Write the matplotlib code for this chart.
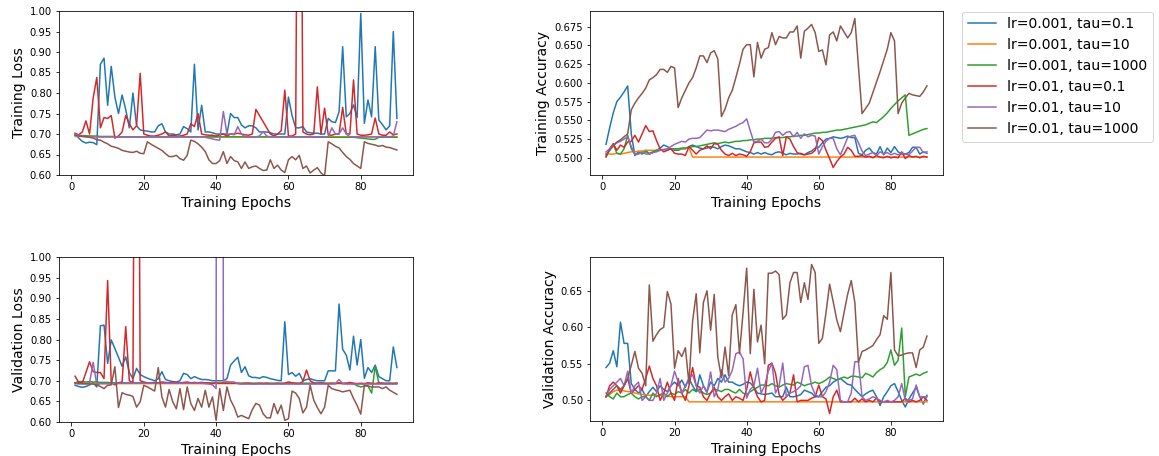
import matplotlib
matplotlib.use("Agg")
import matplotlib.pyplot as plt
from matplotlib.ticker import MultipleLocator

epochs = list(range(1, 91))
labels = ["lr=0.001, tau=0.1", "lr=0.001, tau=10", "lr=0.001, tau=1000",
          "lr=0.01, tau=0.1", "lr=0.01, tau=10", "lr=0.01, tau=1000"]

# ---------------- Training loss ----------------
tl_blue = [0.700, 0.690, 0.682, 0.678, 0.680, 0.679, 0.674, 0.870, 0.885, 0.770,
           0.865, 0.790, 0.750, 0.795, 0.760, 0.715, 0.800, 0.720, 0.710, 0.708,
           0.707, 0.705, 0.705, 0.720, 0.725, 0.705, 0.700, 0.700, 0.698, 0.700,
           0.718, 0.713, 0.705, 0.870, 0.710, 0.770, 0.705, 0.705, 0.703, 0.700,
           0.700, 0.700, 0.700, 0.750, 0.740, 0.740, 0.722, 0.715, 0.720, 0.720,
           0.715, 0.705, 0.705, 0.705, 0.703, 0.700, 0.700, 0.700, 0.700, 0.790,
           0.745, 0.715, 0.715, 0.718, 0.705, 0.703, 0.702, 0.702, 0.700, 0.700,
           0.738, 0.730, 0.728, 0.754, 0.913, 0.742, 0.750, 0.771, 0.740, 0.994,
           0.726, 0.783, 0.742, 0.913, 0.734, 0.723, 0.710, 0.720, 0.950, 0.738]
tl_orange = [0.694, 0.694, 0.694, 0.694, 0.694, 0.694, 0.693, 0.693, 0.693, 0.693,
             0.693, 0.693, 0.693, 0.693, 0.693, 0.693, 0.693, 0.693, 0.693, 0.693,
             0.693, 0.693, 0.693, 0.693, 0.693, 0.693, 0.693, 0.693, 0.693, 0.693,
             0.693, 0.693, 0.693, 0.693, 0.693, 0.693, 0.693, 0.693, 0.693, 0.693,
             0.693, 0.693, 0.693, 0.693, 0.693, 0.693, 0.693, 0.693, 0.693, 0.693,
             0.693, 0.693, 0.693, 0.693, 0.693, 0.693, 0.693, 0.693, 0.693, 0.693,
             0.693, 0.693, 0.693, 0.693, 0.693, 0.693, 0.693, 0.693, 0.693, 0.693,
             0.693, 0.693, 0.693, 0.693, 0.693, 0.693, 0.693, 0.693, 0.693, 0.693,
             0.693, 0.693, 0.693, 0.693, 0.693, 0.693, 0.693, 0.693, 0.693, 0.693]
tl_green = [0.697, 0.697, 0.696, 0.696, 0.695, 0.695, 0.695, 0.694, 0.694, 0.694,
            0.694, 0.694, 0.693, 0.693, 0.693, 0.693, 0.693, 0.693, 0.693, 0.693,
            0.693, 0.693, 0.693, 0.693, 0.693, 0.693, 0.693, 0.693, 0.693, 0.693,
            0.693, 0.693, 0.693, 0.693, 0.693, 0.693, 0.693, 0.693, 0.693, 0.693,
            0.693, 0.693, 0.693, 0.693, 0.693, 0.693, 0.693, 0.693, 0.693, 0.693,
            0.693, 0.693, 0.693, 0.693, 0.693, 0.693, 0.693, 0.693, 0.693, 0.693,
            0.693, 0.693, 0.693, 0.693, 0.693, 0.693, 0.692, 0.692, 0.692, 0.692,
            0.692, 0.692, 0.692, 0.692, 0.692, 0.692, 0.692, 0.692, 0.691, 0.690,
            0.689, 0.688, 0.687, 0.687, 0.692, 0.692, 0.692, 0.692, 0.692, 0.692]
tl_red = [0.702, 0.698, 0.705, 0.732, 0.700, 0.788, 0.838, 0.715, 0.740, 0.738,
          0.745, 0.690, 0.695, 0.705, 0.745, 0.725, 0.710, 0.720, 0.848, 0.700,
          0.697, 0.695, 0.695, 0.697, 0.700, 0.705, 0.695, 0.697, 0.695, 0.695,
          0.697, 0.700, 0.725, 0.718, 0.750, 0.700, 0.698, 0.697, 0.697, 0.695,
          0.698, 0.700, 0.695, 0.700, 0.700, 0.702, 0.700, 0.698, 0.697, 0.700,
          0.760, 0.745, 0.730, 0.715, 0.700, 0.695, 0.700, 0.708, 0.807, 0.695,
          0.695, 0.700, 2.200, 0.705, 0.700, 0.698, 0.700, 0.815, 0.700, 0.763,
          0.698, 0.697, 0.700, 0.700, 0.765, 0.700, 0.700, 0.832, 0.700, 0.697,
          0.697, 0.698, 0.700, 0.739, 0.700, 0.697, 0.697, 0.705, 0.698, 0.700]
tl_purple = [0.700, 0.697, 0.695, 0.694, 0.694, 0.693, 0.693, 0.693, 0.693, 0.693,
             0.693, 0.693, 0.693, 0.693, 0.693, 0.693, 0.693, 0.693, 0.693, 0.693,
             0.693, 0.693, 0.693, 0.693, 0.693, 0.693, 0.693, 0.693, 0.693, 0.693,
             0.693, 0.693, 0.693, 0.693, 0.693, 0.693, 0.692, 0.690, 0.688, 0.686,
             0.685, 0.755, 0.700, 0.700, 0.698, 0.718, 0.700, 0.693, 0.693, 0.693,
             0.693, 0.695, 0.706, 0.695, 0.693, 0.693, 0.693, 0.693, 0.693, 0.693,
             0.693, 0.693, 0.693, 0.693, 0.693, 0.693, 0.693, 0.693, 0.693, 0.693,
             0.693, 0.715, 0.700, 0.700, 0.715, 0.700, 0.693, 0.693, 0.693, 0.693,
             0.693, 0.693, 0.693, 0.693, 0.693, 0.693, 0.693, 0.693, 0.695, 0.730]
tl_brown = [0.697, 0.695, 0.694, 0.693, 0.692, 0.690, 0.686, 0.685, 0.680, 0.676,
            0.670, 0.668, 0.665, 0.660, 0.658, 0.656, 0.655, 0.658, 0.653, 0.652,
            0.681, 0.675, 0.670, 0.665, 0.660, 0.652, 0.645, 0.645, 0.648, 0.640,
            0.636, 0.648, 0.685, 0.682, 0.676, 0.668, 0.657, 0.637, 0.628, 0.628,
            0.635, 0.657, 0.628, 0.645, 0.635, 0.632, 0.616, 0.632, 0.616, 0.620,
            0.622, 0.616, 0.611, 0.612, 0.637, 0.616, 0.624, 0.612, 0.606, 0.637,
            0.645, 0.637, 0.648, 0.616, 0.622, 0.605, 0.612, 0.618, 0.605, 0.598,
            0.681, 0.676, 0.670, 0.666, 0.655, 0.645, 0.638, 0.628, 0.622, 0.616,
            0.681, 0.677, 0.675, 0.673, 0.670, 0.672, 0.668, 0.667, 0.664, 0.661]

# ---------------- Training accuracy ----------------
ta_blue = [0.518, 0.540, 0.560, 0.575, 0.581, 0.588, 0.596, 0.532, 0.503, 0.508,
           0.505, 0.510, 0.505, 0.507, 0.510, 0.513, 0.517, 0.515, 0.512, 0.510,
           0.510, 0.512, 0.512, 0.515, 0.517, 0.515, 0.513, 0.512, 0.513, 0.515,
           0.514, 0.512, 0.515, 0.517, 0.516, 0.514, 0.512, 0.512, 0.510, 0.508,
           0.507, 0.505, 0.507, 0.505, 0.507, 0.505, 0.504, 0.507, 0.508, 0.506,
           0.504, 0.506, 0.505, 0.505, 0.506, 0.504, 0.507, 0.509, 0.513, 0.514,
           0.520, 0.525, 0.526, 0.528, 0.527, 0.526, 0.527, 0.529, 0.527, 0.527,
           0.506, 0.504, 0.510, 0.513, 0.507, 0.505, 0.515, 0.504, 0.513, 0.507,
           0.515, 0.508, 0.505, 0.505, 0.507, 0.514, 0.514, 0.505, 0.508, 0.506]
ta_orange = [0.506, 0.505, 0.505, 0.506, 0.505, 0.506, 0.507, 0.508, 0.508, 0.509,
             0.509, 0.510, 0.510, 0.510, 0.510, 0.511, 0.511, 0.511, 0.512, 0.512,
             0.512, 0.512, 0.513, 0.513, 0.501, 0.501, 0.501, 0.501, 0.501, 0.501,
             0.501, 0.501, 0.501, 0.501, 0.501, 0.501, 0.501, 0.501, 0.501, 0.501,
             0.501, 0.501, 0.501, 0.501, 0.501, 0.501, 0.501, 0.501, 0.501, 0.501,
             0.501, 0.501, 0.501, 0.501, 0.501, 0.501, 0.501, 0.501, 0.501, 0.501,
             0.501, 0.501, 0.501, 0.501, 0.501, 0.501, 0.501, 0.501, 0.501, 0.501,
             0.501, 0.501, 0.501, 0.501, 0.501, 0.501, 0.501, 0.501, 0.501, 0.501,
             0.501, 0.501, 0.501, 0.501, 0.501, 0.501, 0.501, 0.501, 0.501, 0.501]
ta_green = [0.502, 0.510, 0.518, 0.506, 0.505, 0.512, 0.530, 0.512, 0.505, 0.506,
            0.506, 0.508, 0.506, 0.508, 0.510, 0.510, 0.511, 0.511, 0.512, 0.512,
            0.512, 0.513, 0.513, 0.514, 0.515, 0.515, 0.516, 0.517, 0.518, 0.519,
            0.520, 0.519, 0.520, 0.521, 0.520, 0.521, 0.522, 0.522, 0.523, 0.523,
            0.524, 0.524, 0.525, 0.525, 0.526, 0.526, 0.526, 0.527, 0.527, 0.527,
            0.528, 0.528, 0.529, 0.529, 0.530, 0.530, 0.531, 0.532, 0.533, 0.533,
            0.534, 0.534, 0.535, 0.536, 0.537, 0.537, 0.538, 0.539, 0.540, 0.541,
            0.542, 0.543, 0.544, 0.546, 0.548, 0.547, 0.551, 0.555, 0.560, 0.566,
            0.571, 0.576, 0.580, 0.584, 0.530, 0.532, 0.534, 0.536, 0.538, 0.539]
ta_red = [0.501, 0.512, 0.519, 0.510, 0.517, 0.514, 0.521, 0.522, 0.530, 0.521,
          0.532, 0.543, 0.535, 0.536, 0.523, 0.512, 0.508, 0.510, 0.512, 0.506,
          0.505, 0.505, 0.503, 0.515, 0.510, 0.505, 0.510, 0.512, 0.516, 0.512,
          0.519, 0.518, 0.510, 0.505, 0.503, 0.506, 0.503, 0.505, 0.504, 0.502,
          0.508, 0.520, 0.521, 0.521, 0.514, 0.515, 0.521, 0.526, 0.528, 0.503,
          0.528, 0.525, 0.515, 0.507, 0.505, 0.504, 0.505, 0.506, 0.510, 0.527,
          0.523, 0.510, 0.499, 0.487, 0.495, 0.501, 0.505, 0.514, 0.510, 0.502,
          0.502, 0.503, 0.501, 0.502, 0.500, 0.503, 0.501, 0.500, 0.502, 0.500,
          0.501, 0.500, 0.508, 0.499, 0.503, 0.501, 0.502, 0.500, 0.502, 0.501]
ta_purple = [0.508, 0.512, 0.517, 0.520, 0.522, 0.525, 0.528, 0.515, 0.504, 0.505,
             0.508, 0.505, 0.505, 0.507, 0.508, 0.510, 0.511, 0.512, 0.515, 0.518,
             0.520, 0.522, 0.521, 0.525, 0.526, 0.526, 0.527, 0.532, 0.537, 0.536,
             0.537, 0.537, 0.536, 0.535, 0.538, 0.540, 0.542, 0.545, 0.547, 0.552,
             0.536, 0.521, 0.522, 0.525, 0.520, 0.520, 0.525, 0.534, 0.535, 0.530,
             0.534, 0.535, 0.528, 0.534, 0.526, 0.532, 0.528, 0.530, 0.529, 0.505,
             0.515, 0.522, 0.526, 0.526, 0.512, 0.504, 0.515, 0.527, 0.529, 0.530,
             0.520, 0.509, 0.503, 0.505, 0.507, 0.503, 0.508, 0.505, 0.507, 0.504,
             0.506, 0.504, 0.507, 0.505, 0.504, 0.509, 0.514, 0.514, 0.507, 0.508]
ta_brown = [0.504, 0.510, 0.516, 0.521, 0.524, 0.528, 0.532, 0.564, 0.573, 0.580,
            0.586, 0.593, 0.604, 0.607, 0.611, 0.618, 0.618, 0.614, 0.622, 0.620,
            0.567, 0.580, 0.590, 0.600, 0.607, 0.620, 0.636, 0.636, 0.627, 0.640,
            0.643, 0.632, 0.555, 0.565, 0.580, 0.590, 0.607, 0.625, 0.645, 0.651,
            0.651, 0.608, 0.654, 0.633, 0.645, 0.647, 0.667, 0.651, 0.662, 0.660,
            0.660, 0.668, 0.668, 0.676, 0.633, 0.669, 0.673, 0.678, 0.667, 0.642,
            0.644, 0.624, 0.664, 0.668, 0.656, 0.676, 0.668, 0.660, 0.667, 0.686,
            0.622, 0.559, 0.566, 0.573, 0.587, 0.601, 0.615, 0.630, 0.645, 0.667,
            0.656, 0.559, 0.573, 0.580, 0.586, 0.584, 0.583, 0.582, 0.588, 0.596]

# ---------------- Validation loss ----------------
vl_blue = [0.689, 0.686, 0.684, 0.686, 0.690, 0.695, 0.685, 0.833, 0.835, 0.742,
           0.799, 0.778, 0.757, 0.735, 0.758, 0.720, 0.705, 0.730, 0.715, 0.710,
           0.706, 0.703, 0.700, 0.705, 0.722, 0.703, 0.700, 0.698, 0.697, 0.700,
           0.718, 0.715, 0.705, 0.710, 0.706, 0.703, 0.703, 0.702, 0.700, 0.700,
           0.700, 0.700, 0.705, 0.738, 0.748, 0.757, 0.720, 0.734, 0.712, 0.708,
           0.708, 0.706, 0.710, 0.708, 0.705, 0.703, 0.701, 0.700, 0.843, 0.715,
           0.720, 0.711, 0.718, 0.700, 0.703, 0.705, 0.702, 0.700, 0.700, 0.700,
           0.724, 0.724, 0.724, 0.886, 0.776, 0.762, 0.726, 0.808, 0.738, 0.800,
           0.706, 0.732, 0.720, 0.738, 0.710, 0.705, 0.700, 0.700, 0.782, 0.732]
vl_orange = [0.694, 0.694, 0.694, 0.694, 0.694, 0.694, 0.694, 0.693, 0.693, 0.693,
             0.693, 0.693, 0.693, 0.693, 0.693, 0.693, 0.693, 0.693, 0.693, 0.693,
             0.693, 0.693, 0.693, 0.693, 0.693, 0.693, 0.693, 0.693, 0.693, 0.693,
             0.693, 0.693, 0.693, 0.693, 0.693, 0.693, 0.693, 0.693, 0.693, 0.693,
             0.693, 0.693, 0.693, 0.693, 0.693, 0.693, 0.693, 0.693, 0.693, 0.693,
             0.693, 0.693, 0.693, 0.693, 0.693, 0.693, 0.693, 0.693, 0.693, 0.693,
             0.693, 0.693, 0.693, 0.693, 0.693, 0.693, 0.693, 0.693, 0.693, 0.693,
             0.693, 0.693, 0.693, 0.693, 0.693, 0.693, 0.693, 0.693, 0.693, 0.693,
             0.693, 0.693, 0.693, 0.693, 0.693, 0.693, 0.693, 0.693, 0.693, 0.693]
vl_green = [0.695, 0.698, 0.698, 0.697, 0.698, 0.697, 0.697, 0.696, 0.696, 0.696,
            0.695, 0.695, 0.695, 0.695, 0.695, 0.695, 0.695, 0.695, 0.695, 0.695,
            0.695, 0.695, 0.695, 0.695, 0.695, 0.695, 0.695, 0.694, 0.694, 0.694,
            0.694, 0.694, 0.694, 0.694, 0.694, 0.694, 0.694, 0.694, 0.694, 0.694,
            0.694, 0.694, 0.694, 0.694, 0.694, 0.694, 0.694, 0.694, 0.694, 0.694,
            0.694, 0.694, 0.694, 0.694, 0.694, 0.694, 0.694, 0.694, 0.694, 0.694,
            0.694, 0.694, 0.694, 0.694, 0.694, 0.694, 0.694, 0.694, 0.694, 0.694,
            0.694, 0.694, 0.694, 0.694, 0.694, 0.694, 0.694, 0.693, 0.688, 0.685,
            0.687, 0.688, 0.670, 0.735, 0.695, 0.694, 0.694, 0.694, 0.694, 0.694]
vl_red = [0.711, 0.696, 0.695, 0.720, 0.746, 0.722, 0.720, 0.720, 0.705, 0.943,
          0.695, 0.690, 0.695, 0.697, 0.831, 0.700, 0.695, 2.500, 0.700, 0.697,
          0.695, 0.695, 0.696, 0.695, 0.697, 0.696, 0.695, 0.697, 0.696, 0.695,
          0.696, 0.697, 0.695, 0.696, 0.695, 0.696, 0.695, 0.695, 0.694, 0.695,
          0.694, 0.695, 0.694, 0.695, 0.694, 0.694, 0.693, 0.694, 0.694, 0.693,
          0.693, 0.694, 0.693, 0.694, 0.693, 0.693, 0.694, 0.693, 0.694, 0.697,
          0.695, 0.694, 0.693, 0.698, 0.726, 0.700, 0.695, 0.694, 0.695, 0.694,
          0.693, 0.694, 0.693, 0.695, 0.693, 0.694, 0.696, 0.694, 0.693, 0.694,
          0.693, 0.695, 0.694, 0.693, 0.695, 0.694, 0.693, 0.694, 0.693, 0.694]
vl_purple = [0.693, 0.692, 0.692, 0.692, 0.695, 0.745, 0.690, 0.693, 0.693, 0.693,
             0.693, 0.693, 0.694, 0.694, 0.694, 0.694, 0.694, 0.694, 0.694, 0.694,
             0.694, 0.694, 0.694, 0.694, 0.694, 0.694, 0.694, 0.694, 0.694, 0.694,
             0.694, 0.694, 0.694, 0.694, 0.694, 0.694, 0.693, 0.692, 0.690, 0.681,
             10.00, 0.700, 0.698, 0.697, 0.697, 0.693, 0.692, 0.692, 0.692, 0.692,
             0.692, 0.692, 0.692, 0.692, 0.692, 0.692, 0.692, 0.692, 0.692, 0.692,
             0.692, 0.692, 0.692, 0.692, 0.692, 0.692, 0.692, 0.692, 0.692, 0.692,
             0.692, 0.692, 0.693, 0.703, 0.693, 0.692, 0.692, 0.692, 0.692, 0.692,
             0.692, 0.692, 0.692, 0.692, 0.692, 0.692, 0.692, 0.692, 0.692, 0.692]
vl_brown = [0.695, 0.694, 0.694, 0.693, 0.692, 0.692, 0.690, 0.686, 0.681, 0.689,
            0.690, 0.734, 0.635, 0.671, 0.667, 0.665, 0.662, 0.636, 0.649, 0.689,
            0.685, 0.680, 0.675, 0.732, 0.661, 0.636, 0.679, 0.649, 0.632, 0.681,
            0.630, 0.685, 0.645, 0.628, 0.657, 0.636, 0.677, 0.636, 0.661, 0.604,
            0.681, 0.628, 0.685, 0.653, 0.636, 0.612, 0.616, 0.612, 0.608, 0.630,
            0.645, 0.641, 0.620, 0.610, 0.610, 0.645, 0.620, 0.641, 0.604, 0.608,
            0.675, 0.670, 0.657, 0.622, 0.636, 0.689, 0.653, 0.635, 0.620, 0.636,
            0.689, 0.681, 0.678, 0.676, 0.673, 0.675, 0.677, 0.657, 0.640, 0.619,
            0.689, 0.687, 0.685, 0.685, 0.685, 0.681, 0.685, 0.677, 0.672, 0.667]

# ---------------- Validation accuracy ----------------
va_blue = [0.545, 0.551, 0.568, 0.546, 0.607, 0.578, 0.578, 0.523, 0.515, 0.510,
           0.515, 0.505, 0.512, 0.518, 0.512, 0.520, 0.515, 0.512, 0.520, 0.525,
           0.520, 0.528, 0.518, 0.530, 0.520, 0.512, 0.535, 0.520, 0.512, 0.525,
           0.520, 0.530, 0.525, 0.535, 0.525, 0.525, 0.522, 0.520, 0.522, 0.525,
           0.524, 0.518, 0.510, 0.509, 0.508, 0.509, 0.510, 0.505, 0.505, 0.505,
           0.518, 0.505, 0.505, 0.506, 0.508, 0.514, 0.512, 0.510, 0.505, 0.505,
           0.512, 0.518, 0.520, 0.525, 0.528, 0.530, 0.526, 0.522, 0.521, 0.515,
           0.510, 0.505, 0.509, 0.512, 0.514, 0.505, 0.493, 0.505, 0.512, 0.520,
           0.523, 0.512, 0.500, 0.491, 0.502, 0.510, 0.518, 0.505, 0.495, 0.507]
va_orange = [0.505, 0.508, 0.512, 0.514, 0.514, 0.513, 0.512, 0.512, 0.510, 0.509,
             0.508, 0.508, 0.507, 0.507, 0.506, 0.507, 0.506, 0.506, 0.505, 0.505,
             0.505, 0.505, 0.505, 0.498, 0.498, 0.498, 0.498, 0.498, 0.498, 0.498,
             0.498, 0.498, 0.498, 0.498, 0.498, 0.498, 0.498, 0.498, 0.498, 0.498,
             0.498, 0.498, 0.498, 0.498, 0.498, 0.498, 0.498, 0.498, 0.498, 0.498,
             0.498, 0.498, 0.498, 0.498, 0.498, 0.498, 0.498, 0.498, 0.498, 0.498,
             0.498, 0.498, 0.498, 0.498, 0.498, 0.498, 0.498, 0.498, 0.498, 0.498,
             0.498, 0.498, 0.498, 0.498, 0.498, 0.498, 0.498, 0.498, 0.498, 0.498,
             0.498, 0.498, 0.498, 0.498, 0.498, 0.498, 0.498, 0.498, 0.498, 0.498]
va_green = [0.510, 0.505, 0.502, 0.510, 0.505, 0.505, 0.508, 0.510, 0.505, 0.502,
            0.505, 0.505, 0.500, 0.510, 0.505, 0.508, 0.510, 0.505, 0.510, 0.508,
            0.512, 0.510, 0.515, 0.510, 0.515, 0.512, 0.515, 0.510, 0.508, 0.510,
            0.515, 0.514, 0.512, 0.515, 0.515, 0.512, 0.510, 0.515, 0.510, 0.508,
            0.512, 0.515, 0.518, 0.521, 0.521, 0.520, 0.523, 0.520, 0.518, 0.521,
            0.523, 0.522, 0.521, 0.525, 0.523, 0.520, 0.522, 0.523, 0.525, 0.523,
            0.525, 0.528, 0.532, 0.530, 0.528, 0.530, 0.532, 0.530, 0.533, 0.533,
            0.532, 0.531, 0.537, 0.535, 0.532, 0.538, 0.542, 0.545, 0.552, 0.569,
            0.548, 0.555, 0.599, 0.505, 0.532, 0.534, 0.536, 0.534, 0.537, 0.539]
va_red = [0.505, 0.520, 0.525, 0.520, 0.510, 0.520, 0.530, 0.510, 0.515, 0.520,
          0.515, 0.530, 0.547, 0.530, 0.520, 0.500, 0.510, 0.525, 0.510, 0.500,
          0.530, 0.510, 0.500, 0.520, 0.545, 0.520, 0.518, 0.505, 0.500, 0.510,
          0.518, 0.505, 0.500, 0.505, 0.509, 0.500, 0.505, 0.503, 0.500, 0.515,
          0.539, 0.518, 0.505, 0.498, 0.500, 0.548, 0.551, 0.537, 0.508, 0.500,
          0.505, 0.510, 0.535, 0.498, 0.500, 0.500, 0.500, 0.503, 0.505, 0.521,
          0.505, 0.502, 0.482, 0.505, 0.514, 0.498, 0.498, 0.498, 0.498, 0.503,
          0.498, 0.502, 0.498, 0.500, 0.498, 0.503, 0.498, 0.498, 0.498, 0.498,
          0.498, 0.498, 0.498, 0.503, 0.498, 0.500, 0.498, 0.500, 0.505, 0.500]
va_purple = [0.505, 0.515, 0.520, 0.525, 0.530, 0.520, 0.540, 0.510, 0.520, 0.525,
             0.500, 0.505, 0.500, 0.500, 0.510, 0.530, 0.500, 0.510, 0.520, 0.540,
             0.525, 0.510, 0.520, 0.530, 0.535, 0.520, 0.510, 0.520, 0.510, 0.539,
             0.505, 0.515, 0.542, 0.525, 0.530, 0.541, 0.564, 0.566, 0.557, 0.503,
             0.515, 0.520, 0.544, 0.510, 0.520, 0.540, 0.551, 0.510, 0.520, 0.551,
             0.505, 0.510, 0.512, 0.515, 0.520, 0.546, 0.548, 0.520, 0.508, 0.505,
             0.505, 0.512, 0.525, 0.548, 0.542, 0.500, 0.498, 0.498, 0.510, 0.553,
             0.553, 0.505, 0.500, 0.502, 0.505, 0.503, 0.500, 0.498, 0.500, 0.498,
             0.500, 0.505, 0.523, 0.500, 0.500, 0.502, 0.521, 0.505, 0.505, 0.505]
va_brown = [0.505, 0.510, 0.515, 0.520, 0.515, 0.520, 0.530, 0.548, 0.567, 0.544,
            0.537, 0.520, 0.658, 0.581, 0.590, 0.597, 0.600, 0.649, 0.632, 0.544,
            0.568, 0.560, 0.572, 0.523, 0.608, 0.646, 0.565, 0.634, 0.650, 0.596,
            0.645, 0.559, 0.531, 0.573, 0.534, 0.617, 0.631, 0.564, 0.620, 0.681,
            0.564, 0.652, 0.580, 0.603, 0.550, 0.674, 0.674, 0.677, 0.672, 0.611,
            0.617, 0.661, 0.675, 0.675, 0.634, 0.661, 0.638, 0.686, 0.675, 0.578,
            0.585, 0.620, 0.659, 0.635, 0.610, 0.594, 0.620, 0.645, 0.664, 0.634,
            0.552, 0.567, 0.569, 0.572, 0.575, 0.583, 0.590, 0.616, 0.611, 0.675,
            0.569, 0.561, 0.562, 0.564, 0.565, 0.565, 0.545, 0.569, 0.573, 0.588]

W, H = 1159, 456
fig = plt.figure(figsize=(W / 72, H / 72), dpi=72)


def rect(l, t, r, b):
    return [l / W, 1 - b / H, (r - l) / W, (b - t) / H]


panels = [
    (rect(59, 11, 413, 175), [tl_blue, tl_orange, tl_green, tl_red, tl_purple, tl_brown],
     "Training Loss", (0.6, 1.0), 0.05),
    (rect(590, 11, 943, 175), [ta_blue, ta_orange, ta_green, ta_red, ta_purple, ta_brown],
     "Training Accuracy", None, 0.025),
    (rect(59, 257, 413, 422), [vl_blue, vl_orange, vl_green, vl_red, vl_purple, vl_brown],
     "Validation Loss", (0.6, 1.0), 0.05),
    (rect(590, 257, 943, 421), [va_blue, va_orange, va_green, va_red, va_purple, va_brown],
     "Validation Accuracy", None, 0.05),
]

handles = None
for pos, series, ylabel, ylim, ystep in panels:
    ax = fig.add_axes(pos)
    lines = []
    for s, lab in zip(series, labels):
        ln, = ax.plot(epochs, s, label=lab, linewidth=1.5)
        lines.append(ln)
    if handles is None:
        handles = lines
    if ylim is not None:
        ax.set_ylim(*ylim)
    ax.yaxis.set_major_locator(MultipleLocator(ystep))
    ax.xaxis.set_major_locator(MultipleLocator(20))
    ax.tick_params(labelsize=10)
    ax.set_xlabel("Training Epochs", fontsize=14)
    ax.set_ylabel(ylabel, fontsize=14)

fig.legend(handles, labels, loc="upper left",
           bbox_to_anchor=(962 / W, 1 - 11.5 / H), borderaxespad=0, fontsize=14)

fig.savefig("out.png", dpi=72)
